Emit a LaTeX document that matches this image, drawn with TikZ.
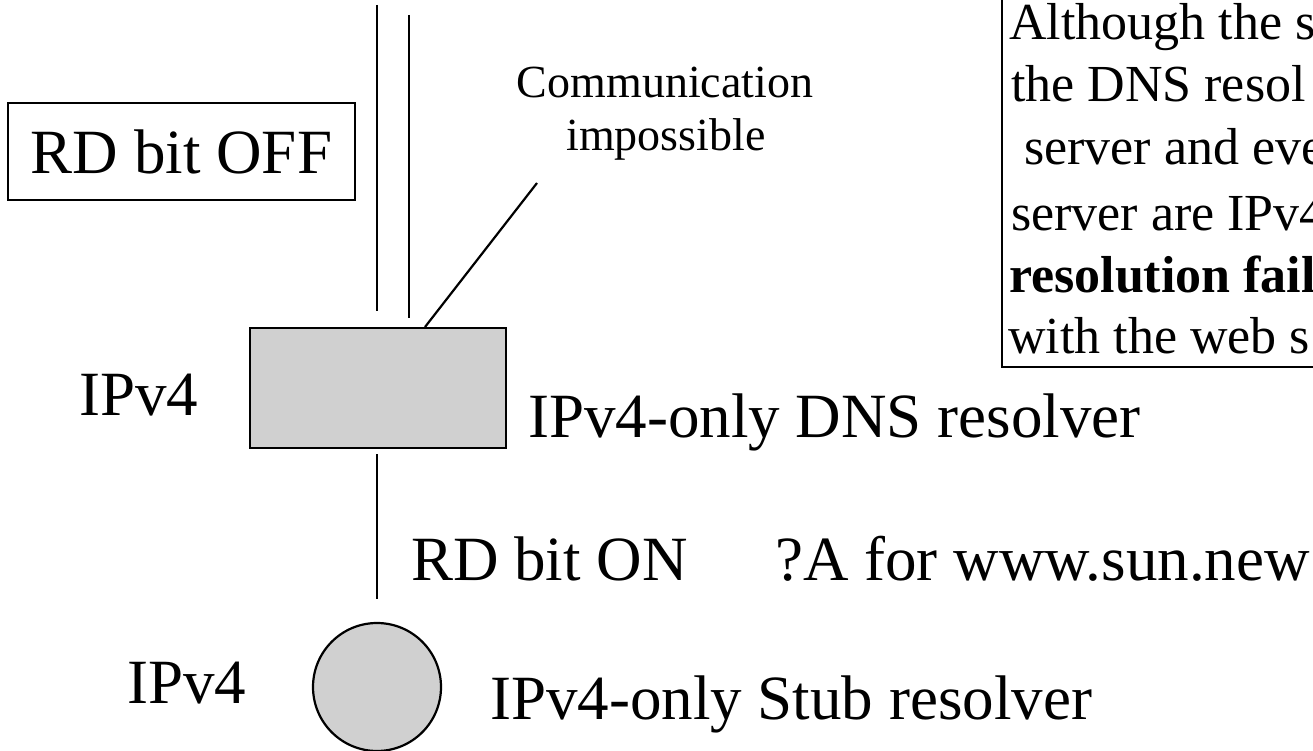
\documentclass[tikz,border=0pt]{standalone}
\usepackage{fontspec}
\setmainfont{Liberation Serif}
\definecolor{boxgray}{RGB}{208,208,208}
\begin{document}
\begin{tikzpicture}[x=1pt,y=-1pt, line width=2.2pt,
  big/.style={font=\fontsize{63}{70}\selectfont, inner sep=0pt, anchor=base west},
  note/.style={font=\fontsize{52}{60}\selectfont, inner sep=0pt, anchor=base west},
  small/.style={font=\fontsize{46}{50}\selectfont, inner sep=0pt, anchor=base},
  grayshape/.style={draw=black, fill=boxgray, line width=2.2pt, inner sep=0pt},
  link/.style={draw=black, line width=2.2pt}]
\useasboundingbox (0,0) rectangle (1313,751);
% main shapes
\node[grayshape, rectangle, minimum width=256pt, minimum height=120pt, anchor=north west] (dns) at (249,327) {};
\node[grayshape, circle, minimum size=128pt] (stub) at (377,687) {};
\node[draw, line width=2.2pt, minimum width=347pt, minimum height=97pt, inner sep=0pt,
      font=\fontsize{63}{70}\selectfont] (off) at (181.5,151.5) {RD bit OFF};
% connector end points
\coordinate (t1) at (377,5);
\coordinate (b1) at (377,311);
\coordinate (t2) at (409,15);
\coordinate (b2) at (409,318);
\coordinate (cl) at (537,183);
\coordinate (cd) at (425,327);
\coordinate (l1) at (377,454);
\coordinate (l2) at (377,599);
\draw[link] (t1) -- (b1);
\draw[link] (t2) -- (b2);
\draw[link] (cl) -- (cd);
\draw[link] (l1) -- (l2);
% labels
\node[small] (comm1) at (665,98) {Communication};
\node[small] (comm2) at (666,151) {impossible};
\node[big] (ipv4a) at (78,415) {IPv4};
\node[big] (dnslbl) at (527,437) {IPv4-only DNS resolver};
\node[big] (rdon) at (410,580) {RD bit ON};
\node[big] (query) at (774,580) {?A for www.sun.new};
\node[big] (ipv4b) at (126,703) {IPv4};
\node[big] (stublbl) at (489,719) {IPv4-only Stub resolver};
% note box (cut by the picture edge)
\draw[link] (1002,-10) -- (1002,367) -- (1330,367);
\node[note] (n1) at (1008,40) {Although the s};
\node[note] (n2) at (1010,102) {the DNS resol};
\node[note] (n3) at (1023,165) {server and eve};
\node[note] (n4) at (1010,230) {server are IPv4};
\node[note, font=\fontsize{52}{60}\selectfont\bfseries] (n5) at (1008,292) {resolution fail};
\node[note] (n6) at (1007,353) {with the web s};
\end{tikzpicture}
\end{document}
